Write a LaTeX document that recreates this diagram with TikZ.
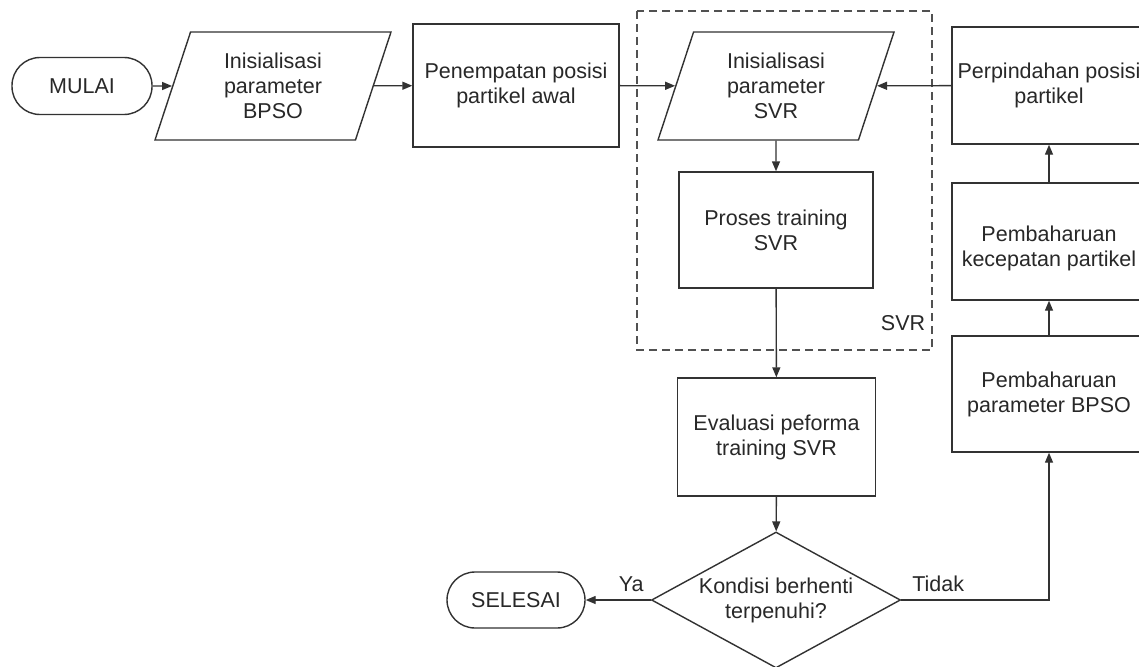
\documentclass[tikz,border=0pt]{standalone}
\usepackage{fontspec}
\setmainfont{Liberation Sans}
\usetikzlibrary{shapes.geometric,arrows.meta}
\definecolor{ink}{RGB}{50,50,50}
\definecolor{txt}{RGB}{40,40,40}
\tikzset{
  base/.style={draw=ink, line width=1.4pt, text=txt, align=center, inner sep=2pt,
    font=\fontsize{21.5}{25}\selectfont},
  procbox/.style={base, rectangle, minimum width=#1, minimum height=117pt},
  iobox/.style={base, trapezium, trapezium left angle=63, trapezium right angle=117,
    trapezium stretches body=true, minimum height=108pt, minimum width=236pt},
  termbox/.style={base, rectangle, rounded corners=28pt, minimum width=#1, minimum height=57pt},
  decbox/.style={base, diamond, minimum width=249pt, minimum height=136pt, aspect=1.83},
  arr/.style={draw=ink, line width=1.4pt, -{Triangle[length=10pt,width=8pt]}},
  grp/.style={draw=ink!85, line width=1.3pt, dash pattern=on 8pt off 5pt},
  lbl/.style={text=txt, font=\fontsize{21.5}{25}\selectfont, inner sep=0pt}
}
\begin{document}
\begin{tikzpicture}[x=1pt,y=-1pt]
\useasboundingbox (0,0) rectangle (1139,666);
\clip (0,0) rectangle (1139,666);
\fill[white] (0,0) rectangle (1139,666);
% group box
\draw[grp] (637,11) rectangle (932,350);
\node[lbl] (svrlbl) at (903,323) {SVR};
% nodes
\node[termbox=140pt] (mulai) at (82,86) {MULAI};
\node[iobox] (bpso) at (273,86) {Inisialisasi\\parameter\\BPSO};
\node[procbox=206pt, minimum height=123pt] (pen) at (516,85.5) {Penempatan posisi\\partikel awal};
\node[iobox] (svrin) at (776,86) {Inisialisasi\\parameter\\SVR};
\node[procbox=194pt, minimum height=116pt] (proses) at (776,230) {Proses training\\SVR};
\node[procbox=198pt, minimum height=118pt] (eval) at (776.5,437) {Evaluasi peforma\\training SVR};
\node[decbox] (kond) at (776,600) {Kondisi berhenti\\terpenuhi?};
\node[termbox=138pt, minimum height=56pt] (selesai) at (516,600) {SELESAI};
\node[procbox=194pt] (perp) at (1049,85.5) {Perpindahan posisi\\partikel};
\node[procbox=194pt] (kec) at (1049,241.5) {\rule{0pt}{30pt}Pembaharuan\\kecepatan partikel};
\node[procbox=194pt, minimum height=116pt] (pbpso) at (1049,394) {Pembaharuan\\parameter BPSO};
% connectors
\draw[arr] (mulai) -- (bpso);
\draw[arr] (bpso) -- (pen);
\draw[arr] (pen) -- (svrin);
\draw[arr] (perp) -- (svrin);
\draw[arr] (svrin) -- (proses);
\draw[arr] (proses) -- (eval);
\draw[arr] (eval) -- (kond);
\draw[arr] (kond.west) -- node[lbl, above=8pt, pos=0.3] (ya) {Ya} (selesai.east);
\draw[arr] (kond.east) -| node[lbl, above=8pt, pos=0.125] (tidak) {Tidak} (pbpso.south);
\draw[arr] (pbpso) -- (kec);
\draw[arr] (kec) -- (perp);
\end{tikzpicture}
\end{document}
